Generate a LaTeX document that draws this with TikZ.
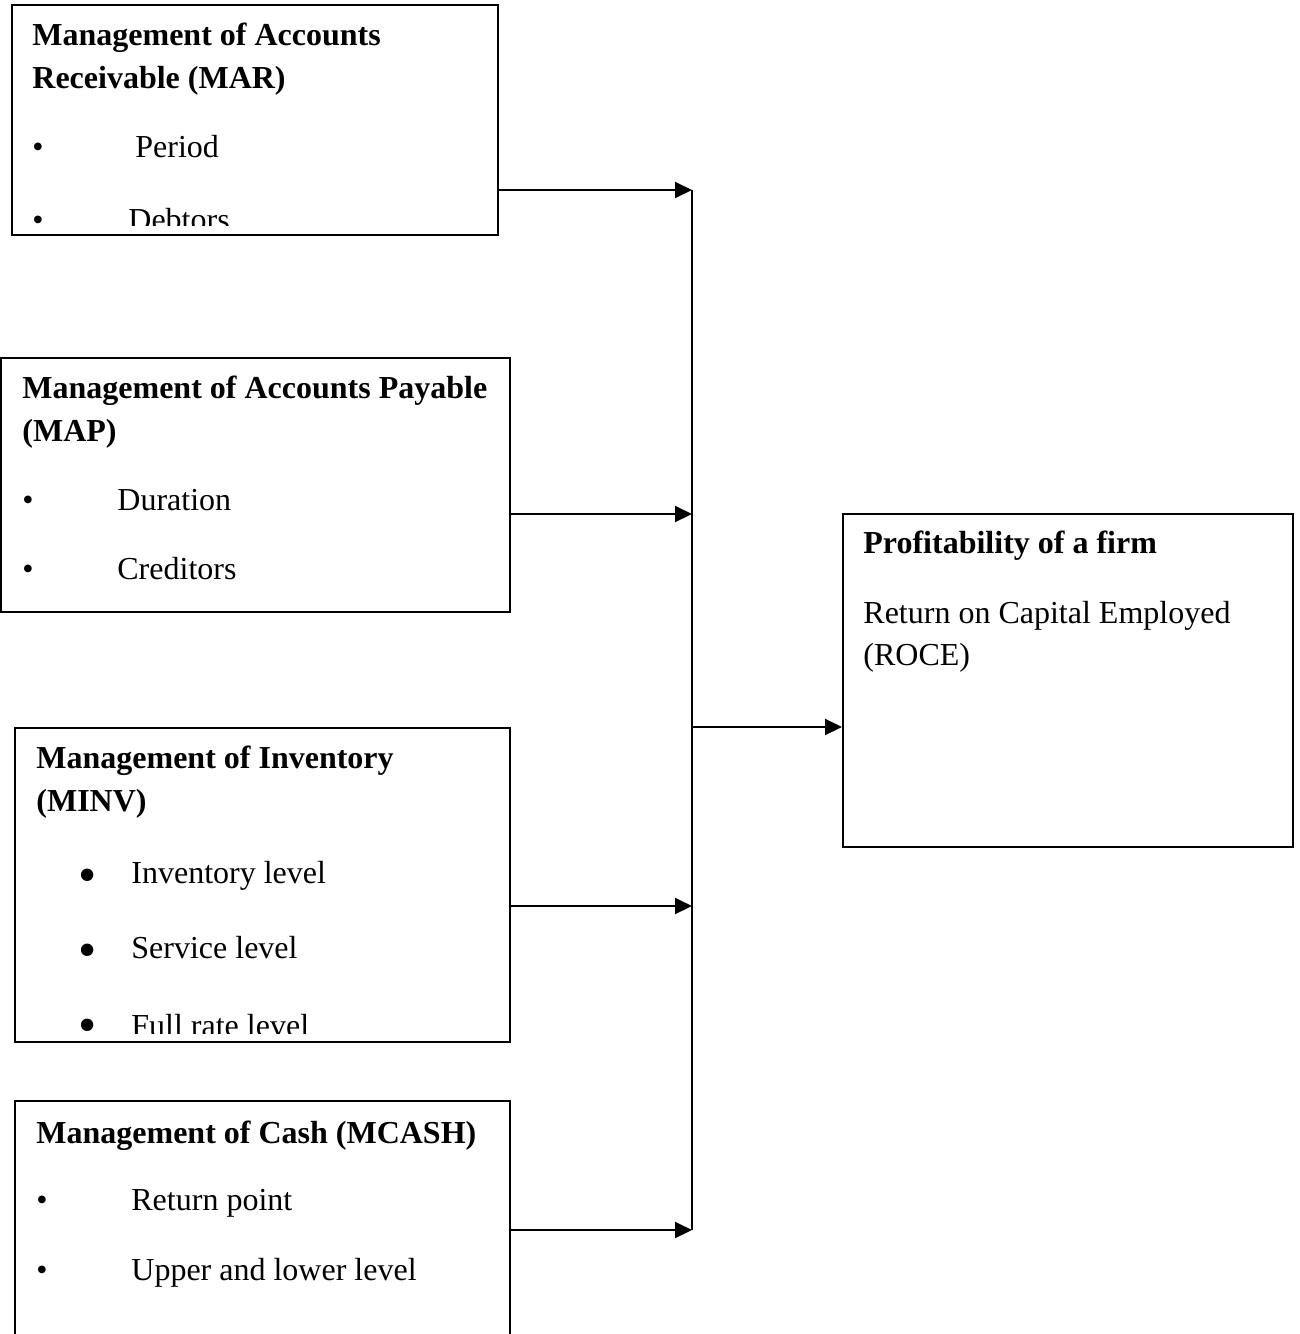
\documentclass[tikz,border=0pt]{standalone}
\usepackage{fontspec}
\setmainfont{Liberation Serif}
\usetikzlibrary{arrows.meta, fit}

\tikzset{
  box/.style={draw, line width=1pt, inner sep=0pt},
  txt/.style={anchor=base west, inner sep=0pt, font=\fontsize{16}{19}\selectfont},
  head/.style={txt, font=\fontsize{16}{19}\selectfont\bfseries},
  dot/.style={txt, font=\fontsize{26}{28}\selectfont},
  feed/.style={line width=1pt, -{Triangle[length=8.5pt, width=8pt]}},
}

\begin{document}
\begin{tikzpicture}[x=0.5pt,y=-0.5pt]
\useasboundingbox (0,0) rectangle (1300,1334);
% boxes
\node[box, fit={(12,5) (498,235)}] (mar) {};
\node[box, fit={(1,358) (510,612)}] (map) {};
\node[box, fit={(15,728) (510,1042)}] (minv) {};
\node[box, fit={(15,1101) (510,1350)}] (mcash) {};
\node[box, fit={(843,514) (1293,847)}] (roce) {};
% MAR
\begin{scope}
\clip (12,5) rectangle (498,225);
\node[head] (mar1) at (32,45) {Management of Accounts};
\node[head] (mar2) at (32,88) {Receivable (MAR)};
\node[txt] (marb1) at (32,157) {•};
\node[txt] (mar3) at (135,157) {Period};
\node[txt] (marb2) at (32,230) {•};
\node[txt] (mar4) at (128,230) {Debtors};
\end{scope}
% MAP
\node[head] (map1) at (22,398) {Management of Accounts Payable};
\node[head] (map2) at (22,441) {(MAP)};
\node[txt] (mapb1) at (22,510) {•};
\node[txt] (map3) at (117,510) {Duration};
\node[txt] (mapb2) at (22,579) {•};
\node[txt] (map4) at (117,579) {Creditors};
% MINV
\begin{scope}
\clip (15,728) rectangle (510,1033);
\node[head] (minv1) at (36,768) {Management of Inventory};
\node[head] (minv2) at (36,811) {(MINV)};
\node[dot] (minvb1) at (78,892) {•};
\node[txt] (minv3) at (131,883) {Inventory level};
\node[dot] (minvb2) at (78,967) {•};
\node[txt] (minv4) at (131,958) {Service level};
\node[dot] (minvb3) at (78,1042) {•};
\node[txt] (minv5) at (131,1036) {Full rate level};
\end{scope}
% MCASH
\node[head] (mcash1) at (36,1143) {Management of Cash (MCASH)};
\node[txt] (mcashb1) at (36,1210) {•};
\node[txt] (mcash2) at (131,1210) {Return point};
\node[txt] (mcashb2) at (36,1280) {•};
\node[txt] (mcash3) at (131,1280) {Upper and lower level};
% ROCE
\node[head] (roce1) at (863,553) {Profitability of a firm};
\node[txt] (roce2) at (863,623) {Return on Capital Employed};
\node[txt] (roce3) at (863,665) {(ROCE)};
% connectors
\coordinate (jmar) at (692,190);
\coordinate (jmap) at (692,514);
\coordinate (jmid) at (692,727);
\coordinate (jminv) at (692,906);
\coordinate (jcash) at (692,1230);
\draw[line width=0.8pt] (jmar) -- (jcash);
\draw[feed] (mar.east |- jmar) -- (jmar);
\draw[feed] (map.east |- jmap) -- (jmap);
\draw[feed] (minv.east |- jminv) -- (jminv);
\draw[feed] (mcash.east |- jcash) -- (jcash);
\draw[feed] (jmid) -- (roce.west |- jmid);
\end{tikzpicture}
\end{document}
